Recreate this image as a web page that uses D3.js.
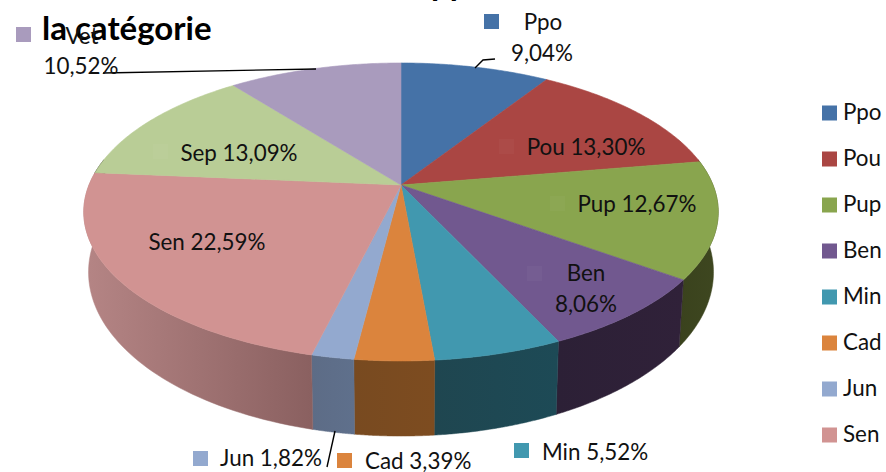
<!DOCTYPE html>
<html><head><meta charset="utf-8">
<script src="https://cdn.jsdelivr.net/npm/d3@7/dist/d3.min.js"></script>
<style>html,body{margin:0;padding:0;background:#fff;overflow:hidden}svg{display:block}text{font-family:Lato,"Open Sans",sans-serif;fill:#111}</style>
</head><body><svg id="c" width="886" height="472"></svg>
<script>
const categories=["Ppo","Pou","Pup","Ben","Min","Cad","Jun","Sen","Sep","Vet"];
const values=[9.04,13.30,12.67,8.06,5.52,3.39,1.82,22.59,13.09,10.52];
const colors=["#4572a7","#aa4643","#89a54e","#71588f","#4198af","#db843d","#93a9cf","#d19392","#b9cd96","#a99bbd"];
const legendNames=["Ppo","Pou","Pup","Ben","Min","Cad","Jun","Sen"];
const sideFrom={Pup:"#3e4720",Ben:"#302139",Min:"#1d4a56",Cad:"#7d4c20",Jun:"#5f708c",Sen:"#b58585"};
const sideTo={Pup:"#3a421d",Ben:"#2c2036",Min:"#1f4650",Cad:"#784a20",Jun:"#5d6c86",Sen:"#8a6060"};

const svg=d3.select("#c");
const cx=401,apexY=185,ax=312,by=144.1,p=-0.181;
const proj=t=>{const w=-Math.cos(t),d=1+p*w;return [cx+ax*Math.sin(t)/d,apexY+by*w/d];};
const low=([x,y])=>[cx+0.985*(x-cx),242.5+1.1*(y-apexY)];
const tR=Math.acos(0.181),tL=2*Math.PI-tR;
const samples=(a,b)=>d3.range(0,61).map(i=>a+(b-a)*i/60);
const line=d3.line();
const arcs=d3.pie().sort(null)(values);
const fmt=v=>v.toFixed(2).replace(".",",")+"%";
const pct=Object.fromEntries(categories.map((c,i)=>[c,fmt(values[i])]));
const color=Object.fromEntries(categories.map((c,i)=>[c,colors[i]]));

const defs=svg.append("defs");
arcs.forEach((a,i)=>{
  const c=categories[i];
  const s=Math.max(a.startAngle,tR),e=Math.min(a.endAngle,tL);
  if(e<=s)return;
  const upper=samples(s,e).map(proj),lower=upper.map(low).reverse();
  const xs=upper.map(d=>d[0]).concat(lower.map(d=>d[0]));
  const g=defs.append("linearGradient").attr("id","g"+i).attr("gradientUnits","userSpaceOnUse")
    .attr("x1",d3.min(xs)).attr("x2",d3.max(xs)).attr("y1",0).attr("y2",0);
  g.append("stop").attr("offset",0).attr("stop-color",c==="Sen"?sideFrom[c]:sideTo[c]);
  g.append("stop").attr("offset",1).attr("stop-color",c==="Sen"?sideTo[c]:sideFrom[c]);
  svg.append("path").attr("d",line(upper.concat(lower))+"Z").attr("fill",`url(#g${i})`).attr("stroke",`url(#g${i})`).attr("stroke-width",0.5);
});
arcs.forEach((a,i)=>{
  svg.append("path").attr("d",line([[cx,apexY]].concat(samples(a.startAngle,a.endAngle).map(proj)))+"Z")
    .attr("fill",colors[i]).attr("stroke",colors[i]).attr("stroke-width",0.6);
});

const fs=22.4;
const T=(s,x,y,anchor)=>svg.append("text").attr("x",x).attr("y",y).attr("font-size",fs).attr("text-anchor",anchor||"middle").text(s);
const key=(c,x,y)=>svg.append("rect").attr("x",x).attr("y",y).attr("width",15).attr("height",15).attr("fill",color[c]);
const faint=(x,y)=>svg.append("rect").attr("x",x).attr("y",y).attr("width",15).attr("height",15).attr("fill","#fff").attr("opacity",0.03);

// leader lines
[[[103,73],[316,69]],[[475,68],[483,60],[495,59]],[[335,431],[327,467]]].forEach(pts=>
  svg.append("path").attr("d",line(pts)).attr("fill","none").attr("stroke","#000").attr("stroke-width",1.4));

// title fragments
svg.append("text").attr("x",431).attr("y",-4).attr("font-size",33).attr("font-weight",700).style("fill","#000").text("pp");
svg.append("text").attr("x",42).attr("y",40).attr("font-size",33).attr("font-weight",700).style("fill","#000").text("la catégorie");

// data labels
faint(499,139);faint(550,196);faint(527,266);faint(153,144);
T(`Pou ${pct.Pou}`,586,155);
T(`Pup ${pct.Pup}`,637,212);
T("Ben",586,281);T(pct.Ben,586,312);
T(`Sep ${pct.Sep}`,239,161);
T(`Sen ${pct.Sen}`,207,250);
key("Ppo",484,14);T("Ppo",543,30);T(pct.Ppo,542,61);
key("Vet",16,27);T("Vet",82,44);T(pct.Vet,81,74);
key("Jun",193,451);T(`Jun ${pct.Jun}`,220,466,"start");
key("Cad",337,453);T(`Cad ${pct.Cad}`,365,469,"start");
key("Min",514,443);T(`Min ${pct.Min}`,542,460,"start");

// legend
const ly=d3.scalePoint().domain(legendNames).range([105.5,427.5]);
legendNames.forEach(n=>{key(n,822,ly(n));T(n,843,ly(n)+14,"start");});
</script></body></html>
